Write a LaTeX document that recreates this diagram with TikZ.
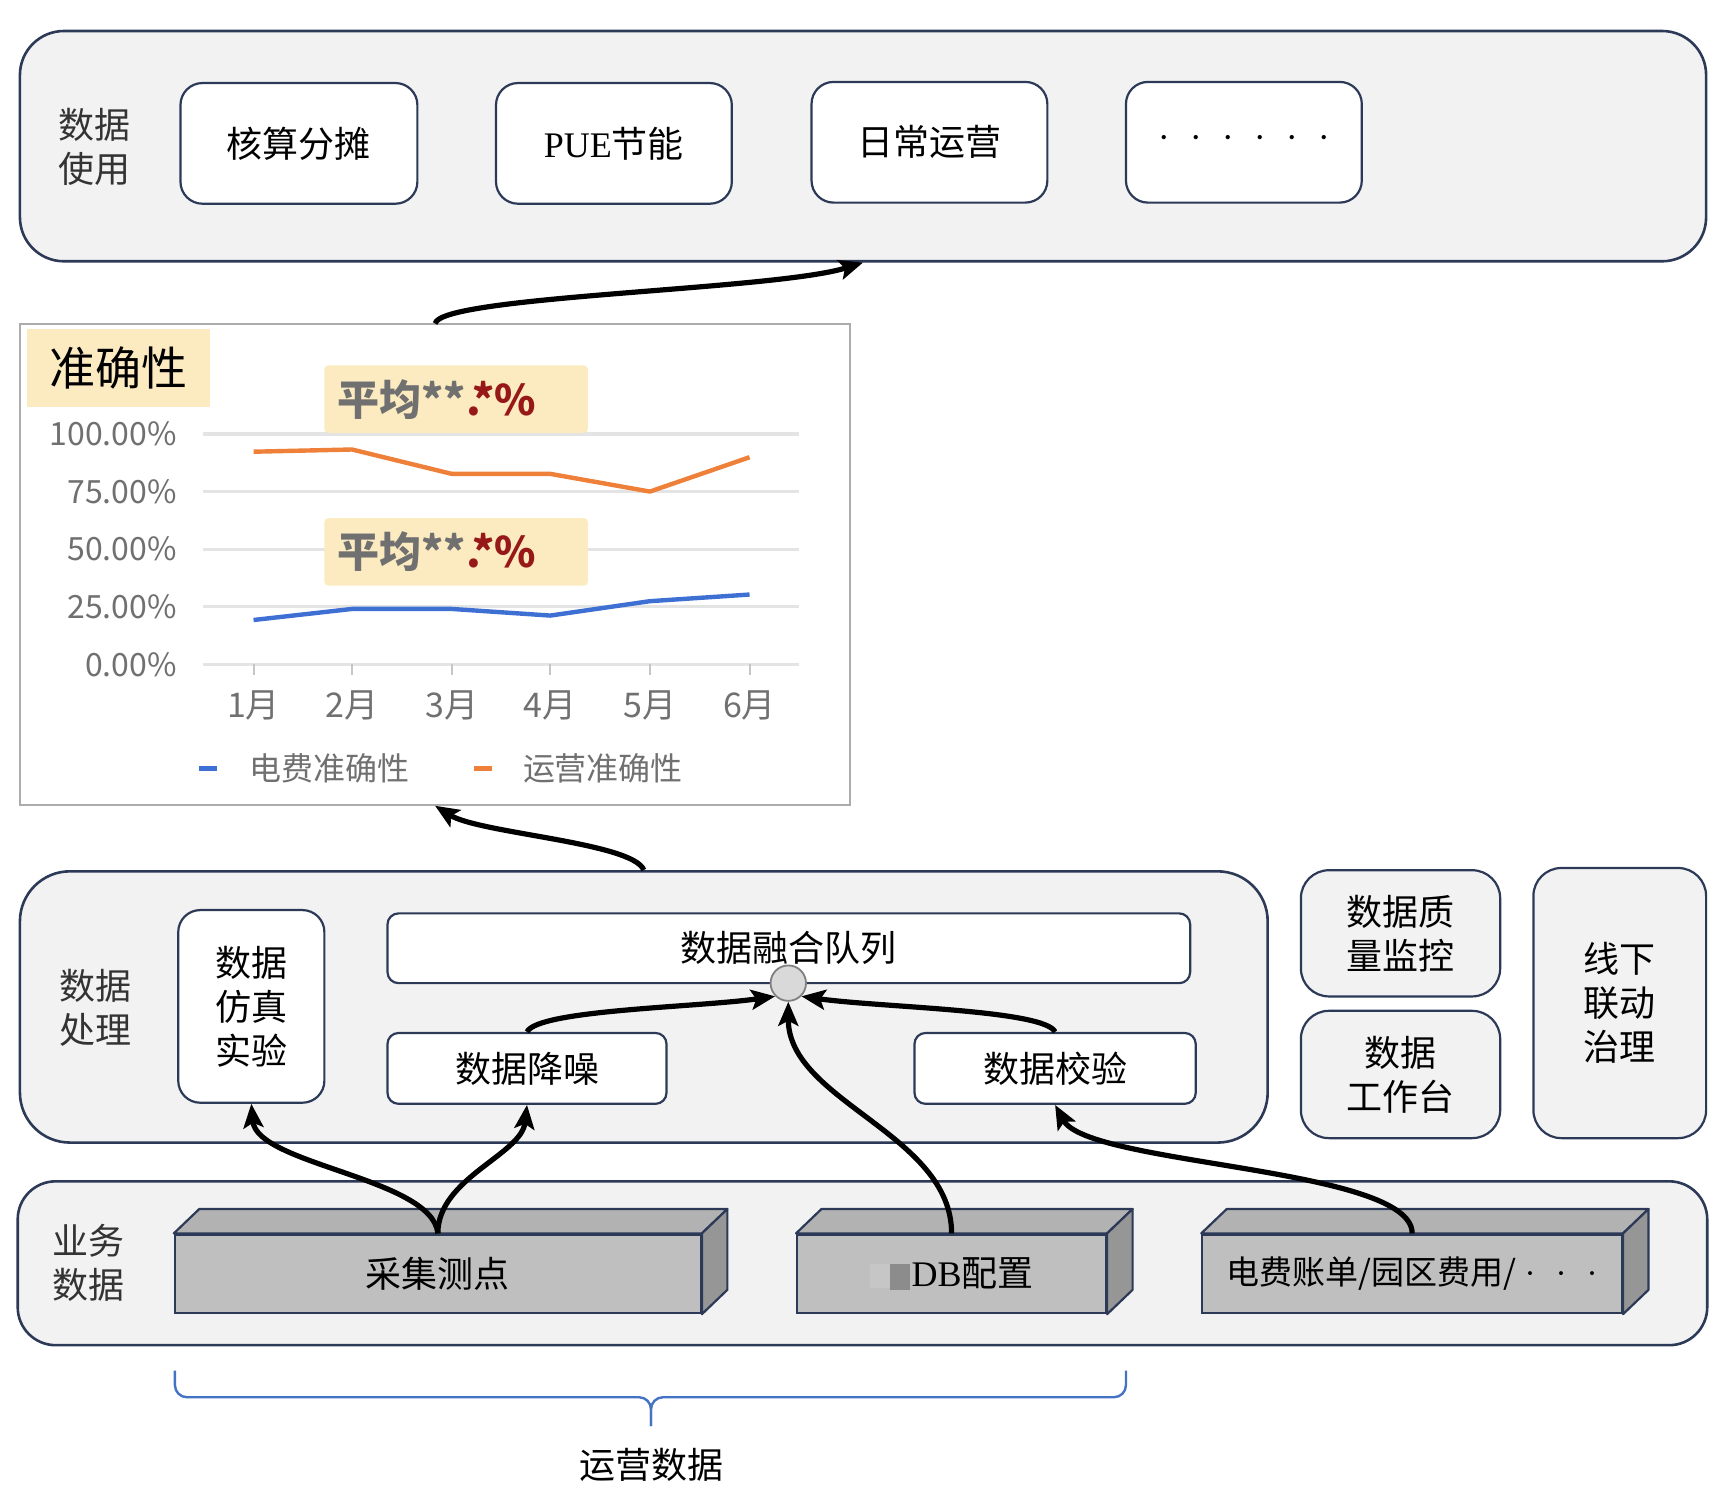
\documentclass[tikz,border=0pt]{standalone}
\usepackage{fontspec}
\setmainfont{Noto Sans CJK SC}
\newfontfamily\serifen{Liberation Serif}
\usepackage{tikz}
\usetikzlibrary{arrows.meta}
\definecolor{navy}{RGB}{44,58,88}
\definecolor{panelgray}{RGB}{242,242,242}
\definecolor{cream}{RGB}{252,234,192}
\definecolor{gridgray}{RGB}{228,228,228}
\definecolor{axisgray}{RGB}{112,112,112}
\definecolor{darkred}{RGB}{150,24,24}
\definecolor{orangeline}{RGB}{238,128,58}
\definecolor{blueline}{RGB}{62,112,212}
\definecolor{bracecol}{RGB}{68,114,196}
\definecolor{frontgray}{RGB}{191,191,191}
\definecolor{topgray}{RGB}{178,178,178}
\definecolor{sidegray}{RGB}{150,150,150}
\newcommand{\pxu}{0.5536pt}
\newcommand{\lblfont}{\fontsize{18}{22}\selectfont}
\newcommand{\tdbmask}{{\color{gray!45}\rule[-1pt]{10pt}{12pt}}{\color{gray!90}\rule[-2pt]{10pt}{13pt}}\hspace{1pt}}
\tikzstyle{panel}=[draw=navy, line width=1.3pt, fill=panelgray, rounded corners=22pt]
\tikzstyle{ubox}=[draw=navy, line width=1.1pt, fill=white, rounded corners=11pt,
                  font=\lblfont, align=center]
\tikzstyle{gbox}=[ubox, fill=panelgray, rounded corners=14pt]
\tikzstyle{front}=[draw=navy, line width=1.1pt, fill=frontgray, font=\lblfont]
\tikzstyle{lbl}=[font=\lblfont, text=black!80, align=center]
\tikzstyle{axis}=[font=\fontsize{16}{19}\selectfont, text=axisgray]
\tikzstyle{hl}=[fill=cream, rounded corners=2pt]
\tikzstyle{flow}=[line width=2.6pt, -{Stealth[length=12pt,width=10pt,inset=2.5pt]}]
\tikzset{wh/.style 2 args={minimum width=#1*\pxu, minimum height=#2*\pxu, inner sep=0pt}}

\begin{document}
\begin{tikzpicture}[x=\pxu, y=-\pxu]
    \useasboundingbox (0,0) rectangle (1568,1349);
    % data usage
    \node[panel, wh={1523}{208}] (use) at (779.5,132) {};
    \node[lbl] (uselbl) at (85,133) {数据\\使用};
    \node[ubox, wh={214}{109}] (hs) at (270,129.5) {核算分摊};
    \node[ubox, wh={213}{109}] (pue) at (554.5,129.5) {{\serifen PUE}节能};
    \node[ubox, wh={213}{109}] (rc) at (839.5,128.5) {日常运营};
    \node[ubox, wh={213}{109}] (more) at (1123.5,128.5)
      {\serifen ·\hspace{10pt}·\hspace{10pt}·\hspace{10pt}·\hspace{10pt}·\hspace{10pt}·};
    % accuracy chart
    \node[draw=gray!65, line width=0.9pt, fill=white, wh={750}{434}] (chart) at (393,510) {};
    \node[hl, rounded corners=0pt, wh={166}{71}, font=\fontsize{23}{26}\selectfont]
      (acc) at (107,332.5) {准确性};
    \foreach \v/\t in {0/0.00\%, 25/25.00\%, 50/50.00\%, 75/75.00\%, 100/100.00\%} {
      \draw[gridgray, line width=1.6pt] (183,{600-2.08*\v}) -- (722,{600-2.08*\v});
      \node[axis, anchor=east] (y\v) at (166,{600-2.08*\v}) {\t};
    }
    \foreach \m [count=\i] in {229,318,408,497,587,677} {
      \draw[gray!45, line width=1pt] (\m,600) -- (\m,610);
      \node[axis, font=\fontsize{17}{20}\selectfont] (m\i) at (\m,637) {\i{}月};
    }
    \node[hl, minimum height=61*\pxu, text width=214*\pxu, inner xsep=12*\pxu, inner ysep=0pt,
      align=left, font=\fontsize{21}{24}\selectfont\bfseries] (avg1) at (412,360.5)
      {{\color{axisgray}平均**}{\color{darkred}.*\%}};
    \node[hl, minimum height=61*\pxu, text width=214*\pxu, inner xsep=12*\pxu, inner ysep=0pt,
      align=left, font=\fontsize{21}{24}\selectfont\bfseries] (avg2) at (412,498.5)
      {{\color{axisgray}平均**}{\color{darkred}.*\%}};
    \draw[orangeline, line width=2.2pt, line join=round] plot coordinates
      {(229,408) (318,406) (408,428) (497,428) (587,444) (677,413)};
    \draw[blueline, line width=2.2pt, line join=round] plot coordinates
      {(229,560) (318,550) (408,550) (497,556) (587,543) (677,537)};
    \draw[blueline, line width=2.2pt] (180,694) -- (196,694);
    \node[axis, anchor=west] (lg1) at (219,694) {电费准确性};
    \draw[orangeline, line width=2.2pt] (428,694) -- (444,694);
    \node[axis, anchor=west] (lg2) at (466,694) {运营准确性};
    % data processing
    \node[panel, rounded corners=25pt, wh={1127}{245}] (proc) at (581.5,909.5) {};
    \node[lbl] (proclbl) at (86,910) {数据\\处理};
    \node[ubox, wh={132}{174}] (fz) at (227,909) {数据\\仿真\\实验};
    \node[ubox, rounded corners=5.5pt, wh={725}{63}] (rh) at (712.5,856.5) {数据融合队列};
    \node[ubox, rounded corners=5.5pt, wh={252}{64}] (jz) at (476,965) {数据降噪};
    \node[ubox, rounded corners=5.5pt, wh={254}{64}] (jy) at (953,965) {数据校验};
    \node[circle, draw=gray, fill=gray!30, line width=0.9pt, minimum size=32*\pxu, inner sep=0pt]
      (mq) at (712,888) {};
    \node[gbox, wh={180}{114}] (zl) at (1265,843) {数据质\\量监控};
    \node[gbox, wh={180}{115}] (gzt) at (1265,970.5) {数据\\工作台};
    \node[gbox, wh={156}{244}] (xx) at (1463,906) {线下\\联动\\治理};
    % business data
    \node[panel, rounded corners=19pt, wh={1526}{148}] (biz) at (779,1141) {};
    \node[lbl] (bizlbl) at (80,1141) {业务\\数据};
    \node[front, wh={475}{71}] (cj) at (395.5,1150.5) {采集测点};
    \node[front, wh={279}{71}] (tdb) at (859.5,1150.5) {\tdbmask{\serifen DB}配置};
    \node[front, wh={379}{71}, font=\fontsize{16.5}{20}\selectfont] (df) at (1275.5,1150.5)
      {电费账单/园区费用/{\serifen\hspace{4pt}·\hspace{10pt}·\hspace{10pt}·}};
    \foreach \b in {cj,tdb,df} {
      \draw[draw=navy, line width=1.1pt, fill=topgray, line join=round] (\b.north west) -- ++(23,-22)
        -- ([shift={(23,-22)}]\b.north east) -- (\b.north east) -- cycle;
      \draw[draw=navy, line width=1.1pt, fill=sidegray, line join=round] (\b.north east) -- ++(23,-22)
        -- ([shift={(23,-22)}]\b.south east) -- (\b.south east) -- cycle;
    }
    % flows
    \draw[flow] (chart.north) .. controls +(5,-25) and +(-80,25) .. (use.south);
    \draw[flow] (proc.north) .. controls +(-10,-25) and +(40,25) .. (chart.south);
    \draw[flow] (cj.north) .. controls +(-5,-50) and +(5,55) .. (fz.south);
    \draw[flow] (cj.north) .. controls +(0,-50) and +(-5,45) .. (jz.south);
    \draw[flow] (tdb.north) .. controls +(0,-90) and +(0,90) .. (mq.south);
    \draw[flow] (jz.north) .. controls +(10,-20) and +(-70,10) .. (mq.south west);
    \draw[flow] (jy.north) .. controls +(-10,-20) and +(70,10) .. (mq.south east);
    \draw[flow] (df.north) .. controls +(0,-60) and +(30,55) .. (jy.south);
    % operations data brace
    \coordinate (bl) at (158,1238);
    \coordinate (br) at (1017,1238);
    \coordinate (bt) at (588,1288);
    \draw[bracecol, line width=1.2pt, rounded corners=6pt] (bl) |- (588,1262) -- (bt);
    \draw[bracecol, line width=1.2pt, rounded corners=6pt] (br) |- (588,1262) -- (bt);
    \node[lbl, text=black] (yy) at (588,1323) {运营数据};
\end{tikzpicture}
\end{document}
